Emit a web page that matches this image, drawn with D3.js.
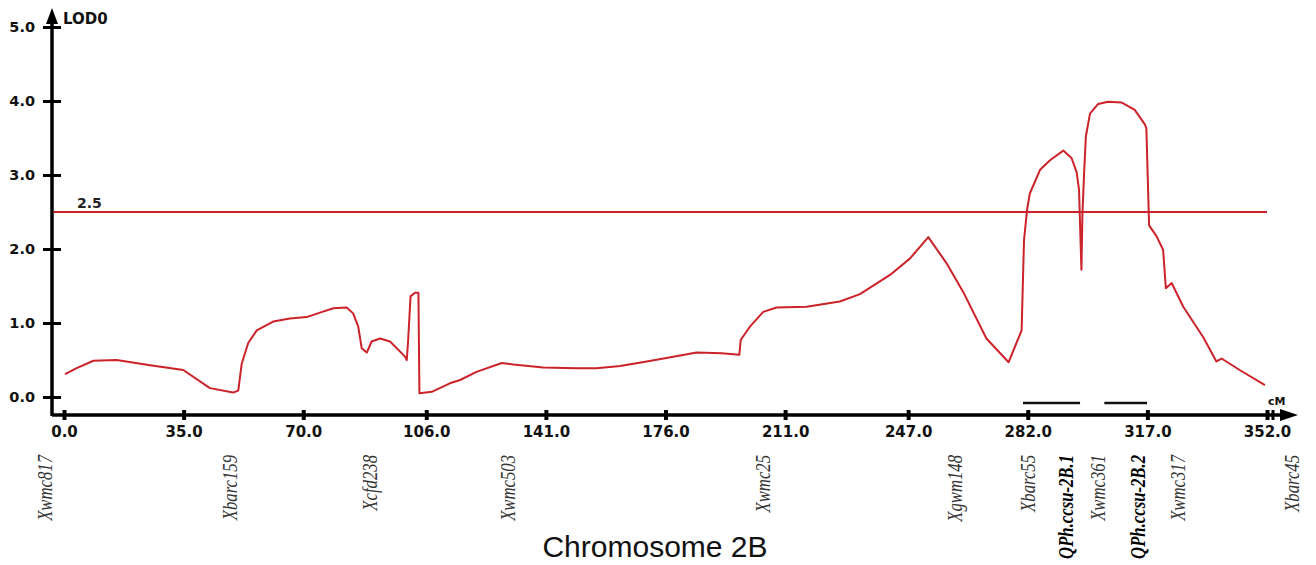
<!DOCTYPE html>
<html>
<head>
<meta charset="utf-8">
<script src="https://cdn.jsdelivr.net/npm/d3@7"></script>
<style>
  body { margin: 0; background: #fff; }
  svg { display: block; }
</style>
</head>
<body>
<div class="canvas"></div>
<script>
// LOD profile, chromosome 2B (cM, LOD)
var lodPos = [0.3, 3.7, 8.6, 15.4, 25.2, 34.9, 42.7, 49.5, 50.6, 51.0, 52.0, 53.9, 56.4, 61.2, 66.1, 71.0, 74.9, 78.8, 82.7, 84.6,
              86.1, 87.1, 88.6, 90.0, 92.5, 95.4, 99.8, 100.3, 100.7, 101.4, 102.7, 103.7, 104.0, 107.6, 112.9, 115.9, 120.7, 128.1, 131.5, 140.2,
              150.0, 155.8, 162.7, 170.5, 178.3, 185.1, 192.4, 197.6, 198.0, 200.7, 204.6, 208.5, 217.3, 227.0, 232.9, 241.7, 247.5, 252.9, 258.2, 263.1,
              269.9, 276.4, 280.2, 280.9, 281.8, 282.6, 285.6, 288.5, 292.4, 294.8, 296.3, 297.0, 297.7, 298.0, 298.5, 299.0, 300.2, 302.6, 305.5, 309.4,
              313.3, 316.3, 316.7, 317.5, 319.7, 321.6, 322.4, 324.1, 327.5, 333.3, 337.2, 338.7, 344.0, 351.4];
var lodVal = [0.31, 0.39, 0.49, 0.50, 0.43, 0.365, 0.12, 0.06, 0.08, 0.09, 0.45, 0.73, 0.90, 1.02, 1.06, 1.08, 1.14, 1.20, 1.21, 1.13,
              0.95, 0.66, 0.60, 0.75, 0.79, 0.75, 0.545, 0.50, 0.77, 1.36, 1.41, 1.41, 0.05, 0.07, 0.185, 0.23, 0.34, 0.46, 0.44, 0.40,
              0.39, 0.39, 0.42, 0.48, 0.545, 0.60, 0.59, 0.57, 0.77, 0.95, 1.15, 1.21, 1.22, 1.29, 1.39, 1.65, 1.87, 2.16, 1.81, 1.42,
              0.79, 0.47, 0.90, 2.12, 2.53, 2.75, 3.07, 3.20, 3.33, 3.23, 3.04, 2.80, 1.72, 2.48, 3.04, 3.52, 3.83, 3.96, 3.99, 3.98,
              3.88, 3.68, 3.63, 2.32, 2.17, 1.99, 1.47, 1.54, 1.22, 0.81, 0.48, 0.52, 0.365, 0.16];

var threshold = 2.5;

var xTickVals = [0, 35, 70, 106, 141, 176, 211, 247, 282, 317, 352];
var xTickLabels = ["0.0", "35.0", "70.0", "106.0", "141.0", "176.0", "211.0", "247.0", "282.0", "317.0", "352.0"];
var yTickVals = [0, 1, 2, 3, 4, 5];

var markerNames = ["Xwmc817", "Xbarc159", "Xcfd238", "Xwmc503", "Xwmc25", "Xgwm148", "Xbarc55", "QPh.ccsu-2B.1",
                   "Xwmc361", "QPh.ccsu-2B.2", "Xwmc317", "Xbarc45"];
var markerPos = [-3.5, 50.6, 91.6, 131.9, 206.6, 262.7, 284.1, 295.2, 304.6, 316.3, 328.0, 361.3];
var markerIsQtl = [false, false, false, false, false, false, false, true, false, true, false, false];

var qtlStart = [280.6, 304.4];
var qtlEnd = [297.3, 316.9];

var W = 1316, H = 565;
var axisX = 52, axisY = 415;
var red = "#cc2229";

var svg = d3.select(".canvas").append("svg")
    .attr("width", W)
    .attr("height", H);

var x = d3.scaleLinear().domain([0, 352]).range([64, 1267]);
var y = d3.scaleLinear().domain([0, 5]).range([397, 27]);

// y axis
var yAxis = svg.append("g")
    .attr("transform", "translate(" + axisX + ",0)")
    .call(d3.axisLeft(y).tickValues(yTickVals).tickFormat(d3.format(".1f")).tickSize(9).tickSizeOuter(0).tickPadding(8));
yAxis.select(".domain").remove();
yAxis.selectAll(".tick line").attr("x1", -9).attr("x2", 9).attr("stroke", "#000").attr("stroke-width", 3);
yAxis.selectAll(".tick text")
    .attr("font-family", "DejaVu Sans").attr("font-weight", "bold").attr("font-size", 14.5).attr("fill", "#111");

svg.append("line")
    .attr("x1", axisX).attr("x2", axisX).attr("y1", 18).attr("y2", axisY + 1)
    .attr("stroke", "#000").attr("stroke-width", 3.5);
svg.append("path")
    .attr("d", "M" + axisX + ",8 L" + (axisX - 6) + ",24 L" + (axisX + 6) + ",24 Z")
    .attr("fill", "#000");
svg.append("text")
    .attr("x", 63).attr("y", 24)
    .attr("font-family", "DejaVu Sans").attr("font-weight", "bold").attr("font-size", 15).attr("fill", "#111")
    .text("LOD0");

// x axis
var xAxis = svg.append("g")
    .attr("transform", "translate(0," + axisY + ")")
    .call(d3.axisBottom(x).tickValues(xTickVals).tickFormat(function(d, i) { return xTickLabels[i]; })
        .tickSize(5).tickSizeOuter(0).tickPadding(6));
xAxis.select(".domain").remove();
xAxis.selectAll(".tick line").attr("y1", -5).attr("y2", 5).attr("stroke", "#000").attr("stroke-width", 4);
xAxis.selectAll(".tick text")
    .attr("font-family", "DejaVu Sans").attr("font-weight", "bold").attr("font-size", 15).attr("fill", "#111");

svg.append("line")
    .attr("x1", axisX).attr("x2", 1285).attr("y1", axisY).attr("y2", axisY)
    .attr("stroke", "#000").attr("stroke-width", 3.5);
svg.append("line")
    .attr("x1", x(352) + 6).attr("x2", x(352) + 6).attr("y1", axisY - 5).attr("y2", axisY + 5)
    .attr("stroke", "#000").attr("stroke-width", 3);
svg.append("path")
    .attr("d", "M1298," + axisY + " L1280," + (axisY - 6) + " L1280," + (axisY + 6) + " Z")
    .attr("fill", "#000");
svg.append("text")
    .attr("x", 1268).attr("y", 405)
    .attr("font-family", "DejaVu Sans").attr("font-weight", "bold").attr("font-size", 11).attr("fill", "#111")
    .text("cM");

// threshold
svg.append("line")
    .attr("x1", axisX + 2).attr("x2", x(352))
    .attr("y1", y(threshold)).attr("y2", y(threshold))
    .attr("stroke", red).attr("stroke-width", 2);
svg.append("text")
    .attr("x", 77).attr("y", 208)
    .attr("font-family", "DejaVu Sans").attr("font-weight", "bold").attr("font-size", 14).attr("fill", "#222")
    .text("2.5");

// LOD curve
var line = d3.line()
    .x(function(d) { return x(d[0]); })
    .y(function(d) { return y(d[1]); });
svg.append("path")
    .datum(d3.zip(lodPos, lodVal))
    .attr("d", line)
    .attr("fill", "none")
    .attr("stroke", red)
    .attr("stroke-width", 2)
    .attr("stroke-linejoin", "round");

// QTL support intervals
svg.selectAll("line.qtl")
    .data(d3.zip(qtlStart, qtlEnd))
    .enter().append("line")
    .attr("class", "qtl")
    .attr("x1", function(d) { return x(d[0]); })
    .attr("x2", function(d) { return x(d[1]); })
    .attr("y1", 403).attr("y2", 403)
    .attr("stroke", "#111").attr("stroke-width", 2.5);

// marker names, rotated
svg.selectAll("text.marker")
    .data(markerNames)
    .enter().append("text")
    .attr("class", "marker")
    .attr("transform", function(d, i) { return "translate(" + x(markerPos[i]) + ",455) rotate(-90) scale(0.76,1)"; })
    .attr("text-anchor", "end")
    .attr("font-family", "Liberation Serif")
    .attr("font-style", "italic")
    .attr("font-weight", function(d, i) { return markerIsQtl[i] ? "bold" : "normal"; })
    .attr("font-size", 22)
    .attr("fill", function(d, i) { return markerIsQtl[i] ? "#000" : "#333"; })
    .text(function(d) { return d; });

svg.append("text")
    .attr("x", 655).attr("y", 557)
    .attr("text-anchor", "middle")
    .attr("font-family", "Liberation Sans")
    .attr("font-size", 30)
    .attr("fill", "#111")
    .text("Chromosome 2B");
</script>
</body>
</html>
